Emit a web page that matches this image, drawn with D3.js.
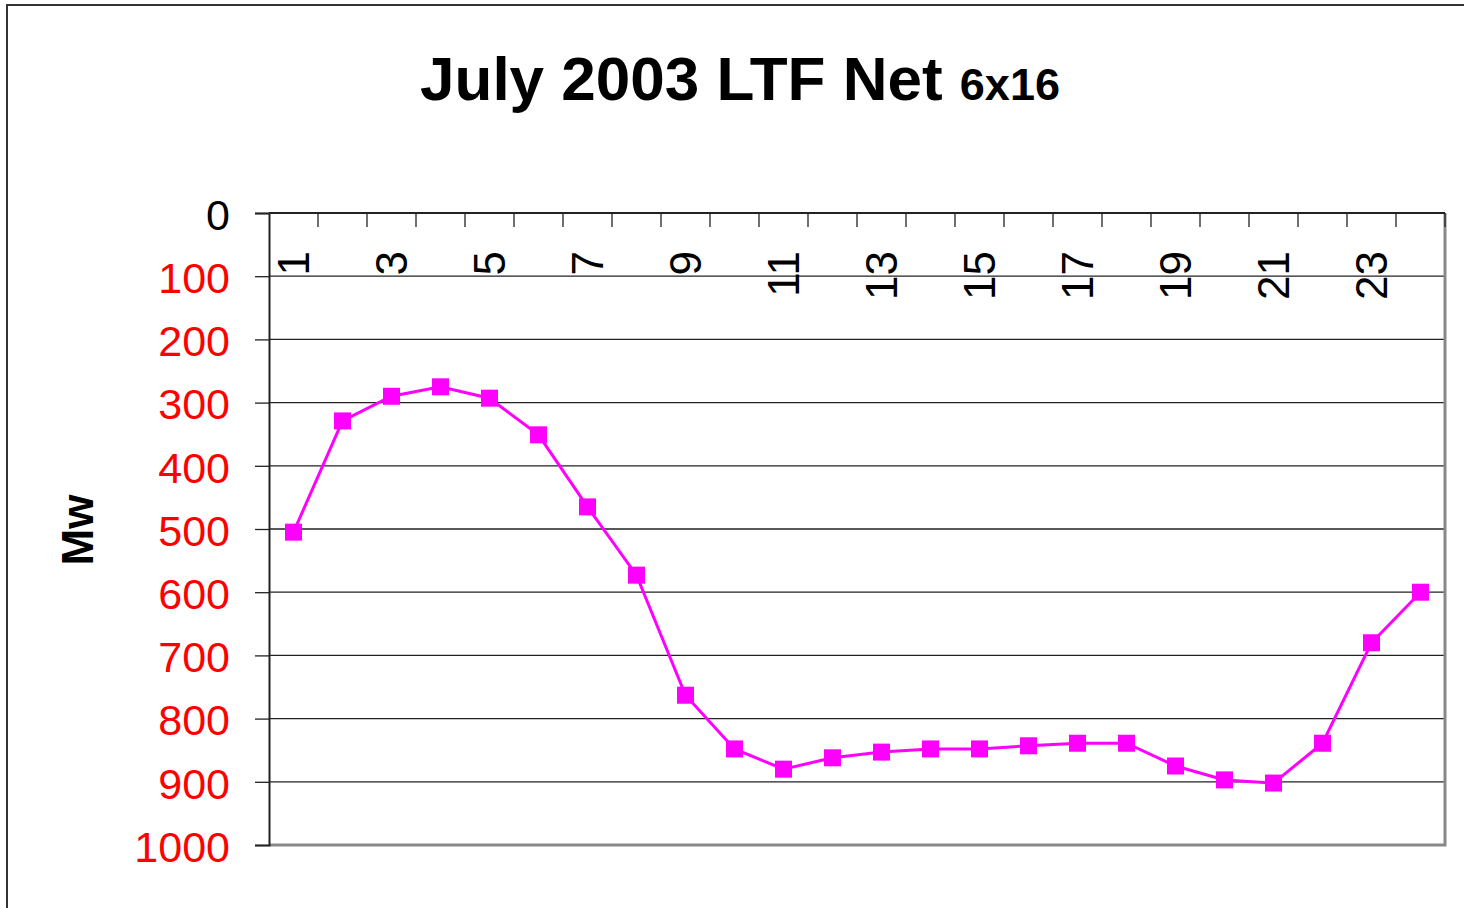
<!DOCTYPE html>
<html lang="en">
	<head>
		<meta charset="utf-8">
		<title>July 2003 LTF Net 6x16</title>
		<script type="text/javascript" src="https://d3js.org/d3.v7.min.js"></script>
		<style type="text/css">
			body { margin: 0; background: #fff; }
			text { font-family: Arial, "Liberation Sans", sans-serif; }
		</style>
	</head>
	<body>
		<script type="text/javascript">

			//Width and height
			var w = 1464;
			var h = 908;

			//Data: hour ending 1..24, net MW (axis drawn upside down)
			var hours = [1, 2, 3, 4, 5, 6, 7, 8, 9, 10, 11, 12,
						 13, 14, 15, 16, 17, 18, 19, 20, 21, 22, 23, 24];
			var netMw = [505, 329, 290, 275, 293, 351, 465, 573, 763, 848, 880, 862,
						 853, 848, 848, 843, 839, 839, 875, 897, 902, 839, 680, 600];
			var yTicks = [0, 100, 200, 300, 400, 500, 600, 700, 800, 900, 1000];
			var xLabels = [1, 3, 5, 7, 9, 11, 13, 15, 17, 19, 21, 23];

			var plot = { left: 269, top: 213, right: 1445, bottom: 845 };

			var svg = d3.select("body")
						.append("svg")
						.attr("width", w)
						.attr("height", h);

			//outer chart border
			svg.append("rect")
			   .attr("x", 7).attr("y", 5)
			   .attr("width", w + 10).attr("height", h + 10)
			   .attr("fill", "none")
			   .attr("stroke", "#333")
			   .attr("stroke-width", 2);

			//Title
			var title = svg.append("text")
			   .attr("x", 740)
			   .attr("y", 100)
			   .attr("text-anchor", "middle")
			   .attr("font-weight", "bold")
			   .attr("fill", "#000");
			title.append("tspan").attr("font-size", "62px").text("July 2003 LTF Net ");
			title.append("tspan").attr("font-size", "45px").text("6x16");

			var x = d3.scaleBand()
					  .domain(hours)
					  .range([plot.left, plot.right]);

			var y = d3.scaleLinear()
					  .domain([0, 1000])
					  .range([plot.top, plot.bottom]);

			//gridlines
			svg.selectAll("line.grid")
			   .data(yTicks.filter(function(d) { return d > 0 && d < 1000; }))
			   .enter()
			   .append("line")
			   .attr("class", "grid")
			   .attr("x1", plot.left)
			   .attr("x2", plot.right)
			   .attr("y1", function(d) { return y(d); })
			   .attr("y2", function(d) { return y(d); })
			   .attr("stroke", "#222")
			   .attr("stroke-width", 1.3);

			//right and bottom border (grey)
			svg.append("path")
			   .attr("d", "M" + plot.right + "," + plot.top + "V" + plot.bottom + "H" + plot.left)
			   .attr("fill", "none")
			   .attr("stroke", "#888")
			   .attr("stroke-width", 3);

			//Y axis
			var yAxis = svg.append("g")
			   .attr("transform", "translate(" + plot.left + ",0)")
			   .call(d3.axisLeft(y).tickValues(yTicks).tickFormat(d3.format("d"))
					   .tickSize(14).tickPadding(25));
			yAxis.select(".domain").attr("stroke", "#222").attr("stroke-width", 2);
			yAxis.selectAll(".tick line").attr("stroke", "#222").attr("stroke-width", 1.3);
			yAxis.selectAll(".tick text")
				 .attr("font-family", "Arial, 'Liberation Sans', sans-serif")
				 .attr("font-size", "43px")
				 .attr("dy", "0.38em")
				 .attr("fill", function(d) { return d === 0 ? "#000" : "#ff0000"; });

			//X axis along the top, ticks between categories
			var xAxis = svg.append("g")
			   .attr("transform", "translate(0," + plot.top + ")");
			xAxis.append("line")
				 .attr("x1", plot.left).attr("x2", plot.right)
				 .attr("y1", 0).attr("y2", 0)
				 .attr("stroke", "#222").attr("stroke-width", 2);
			xAxis.selectAll("line.tick")
				 .data(hours)
				 .enter()
				 .append("line")
				 .attr("class", "tick")
				 .attr("x1", function(d) { return x(d) + x.bandwidth(); })
				 .attr("x2", function(d) { return x(d) + x.bandwidth(); })
				 .attr("y1", 0)
				 .attr("y2", 14)
				 .attr("stroke", "#222")
				 .attr("stroke-width", 1.3);
			xAxis.selectAll("text")
				 .data(xLabels)
				 .enter()
				 .append("text")
				 .text(function(d) { return d; })
				 .attr("transform", function(d) {
					return "translate(" + (x(d) + x.bandwidth() / 2 + 15) + ",38) rotate(-90)";
				 })
				 .attr("text-anchor", "end")
				 .attr("font-size", "44px")
				 .attr("fill", "#000");

			//Y axis title
			svg.append("text")
			   .attr("transform", "translate(93,530) rotate(-90)")
			   .attr("text-anchor", "middle")
			   .attr("font-size", "44px")
			   .attr("font-weight", "bold")
			   .attr("fill", "#000")
			   .text("Mw");

			//line
			var line = d3.line()
						 .x(function(d, i) { return x(hours[i]) + x.bandwidth() / 2; })
						 .y(function(d) { return y(d); });

			svg.append("path")
			   .datum(netMw)
			   .attr("d", line)
			   .attr("fill", "none")
			   .attr("stroke", "#ff00ff")
			   .attr("stroke-width", 3);

			//markers
			var ms = 17;
			svg.selectAll("rect.marker")
			   .data(netMw)
			   .enter()
			   .append("rect")
			   .attr("class", "marker")
			   .attr("x", function(d, i) { return x(hours[i]) + x.bandwidth() / 2 - ms / 2; })
			   .attr("y", function(d) { return y(d) - ms / 2; })
			   .attr("width", ms)
			   .attr("height", ms)
			   .attr("fill", "#ff00ff");

		</script>
	</body>
</html>
